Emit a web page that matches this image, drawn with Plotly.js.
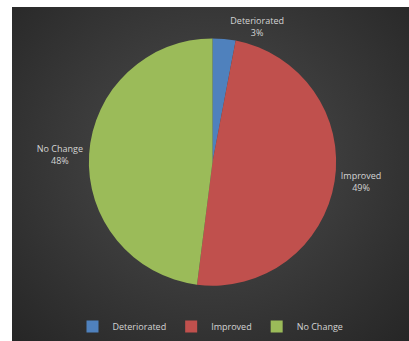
<!DOCTYPE html>
<html>
<head>
<meta charset="utf-8">
<script src="https://cdn.plot.ly/plotly-3.0.1.min.js"></script>
<style>
  html, body { margin: 0; padding: 0; background: #ffffff; width: 409px; height: 341px; overflow: hidden; }
  #chart {
    position: absolute; left: 12px; top: 7px; width: 397px; height: 334px;
    background: radial-gradient(ellipse at 50% 45%, #4e4e4e 0%, #3c3c3c 45%, #262626 100%);
  }
</style>
</head>
<body>
<div id="chart"></div>
<script>
const categories = ["Deteriorated", "Improved", "No Change"];
const values = [3, 49, 48];
const sliceColors = ["#4f81bd", "#c0504d", "#9bbb59"];

const W = 397, H = 334;
const cx = 200.5, cy = 155.5, r = 124;

const data = [{
  type: "pie",
  labels: categories,
  values: values,
  sort: false,
  direction: "clockwise",
  rotation: 0,
  marker: { colors: sliceColors, line: { width: 0 } },
  textinfo: "label+percent",
  textposition: "outside",
  outsidetextfont: { family: "Open Sans, sans-serif", size: 9, color: "#d4d4d4" },
  hoverinfo: "none",
  automargin: false,
  domain: {
    x: [(cx - r) / W, (cx + r) / W],
    y: [(H - cy - r) / H, (H - cy + r) / H]
  }
}];

const layout = {
  width: W, height: H,
  margin: { l: 0, r: 0, t: 0, b: 0 },
  paper_bgcolor: "rgba(0,0,0,0)",
  plot_bgcolor: "rgba(0,0,0,0)",
  showlegend: true,
  legend: {
    orientation: "h",
    x: 0.5, xanchor: "center",
    y: 0.04, yanchor: "middle",
    font: { family: "Open Sans, sans-serif", size: 9, color: "#d4d4d4" },
    bgcolor: "rgba(0,0,0,0)",
    itemwidth: 30,
    traceorder: "normal"
  }
};

Plotly.newPlot("chart", data, layout, { staticPlot: true, displayModeBar: false });
</script>
</body>
</html>
